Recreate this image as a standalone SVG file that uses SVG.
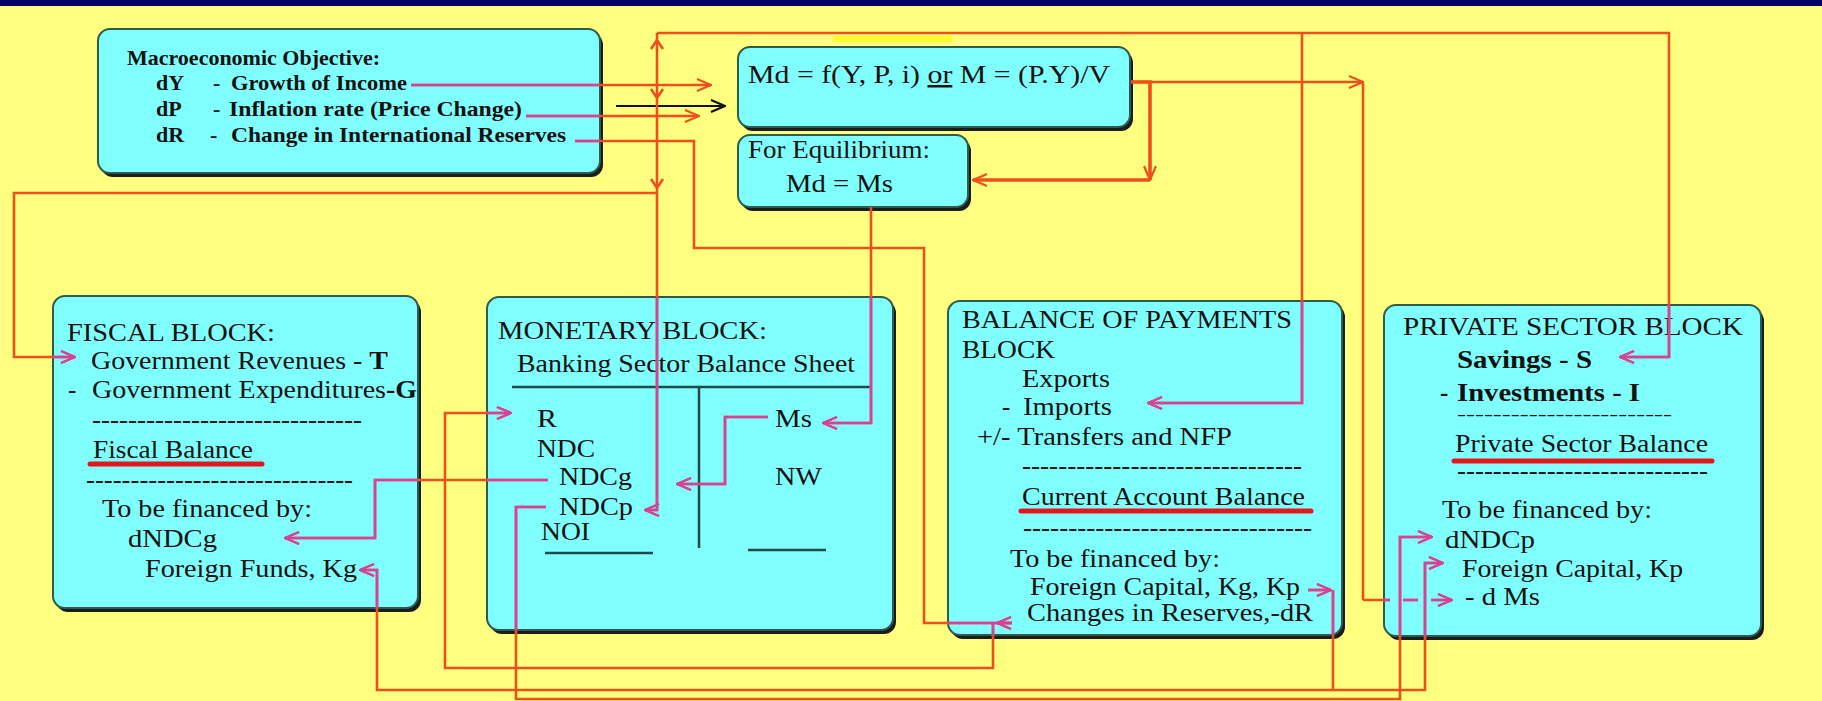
<svg xmlns="http://www.w3.org/2000/svg" width="1822" height="701" viewBox="0 0 1822 701">
<style>
.bg{fill:#FFFF80}
.box{fill:#80FFFF;stroke:#2E5B4E;stroke-width:2}
.sh{fill:#1c1c1c}
.t{font-family:"Liberation Serif","Times New Roman",serif;font-size:25px;fill:#111}
.ob{font-family:"Liberation Serif","Times New Roman",serif;font-size:22px;font-weight:bold;fill:#111}
.b{font-weight:bold}
.sd{font-size:14px;font-weight:bold}
.ul{stroke:#E3161B;stroke-width:5;stroke-linecap:round;fill:none}
.bs{stroke:#1F4A4A;stroke-width:2.5;fill:none}
.cn{fill:none;stroke:var(--lc,#EE501C);stroke-width:2.6}
.thick{stroke-width:3.6}
.ar{marker-end:var(--mk,url(#mo))}
.dash{stroke-dasharray:27 13 15 13 60}
.blk{fill:none;stroke:#111;stroke-width:2.2;marker-end:url(#mb)}
</style>
<defs>
<marker id="mo" viewBox="0 0 16 14" refX="15" refY="7" markerWidth="16" markerHeight="14" markerUnits="userSpaceOnUse" orient="auto"><path d="M1,1 L15,7 L1,13" fill="none" stroke="#EE501C" stroke-width="2.2"/></marker>
<marker id="mm" viewBox="0 0 16 14" refX="15" refY="7" markerWidth="16" markerHeight="14" markerUnits="userSpaceOnUse" orient="auto"><path d="M1,1 L15,7 L1,13" fill="none" stroke="#D6419E" stroke-width="2.2"/></marker>
<marker id="mb" viewBox="0 0 16 14" refX="15" refY="7" markerWidth="16" markerHeight="14" markerUnits="userSpaceOnUse" orient="auto"><path d="M1,1 L15,7 L1,13" fill="none" stroke="#111" stroke-width="2.2"/></marker>
<clipPath id="boxclip">
<rect x="98" y="29" width="502" height="144" rx="12"/>
<rect x="738" y="47" width="392" height="80" rx="12"/>
<rect x="738" y="135" width="230" height="72" rx="12"/>
<rect x="53" y="296" width="365" height="312" rx="12"/>
<rect x="487" y="297" width="406" height="333" rx="12"/>
<rect x="948" y="301" width="394" height="334" rx="12"/>
<rect x="1384" y="305" width="377" height="331" rx="12"/>
</clipPath>
</defs>
<rect class="bg" x="0" y="0" width="1822" height="701"/>
<rect x="0" y="0" width="1822" height="6" fill="#000066"/>
<rect x="833" y="36" width="119" height="6" fill="#FFFF30"/>

<g id="objective">
<rect class="sh" x="101" y="33" width="502" height="144" rx="12"/>
<rect class="box" x="98" y="29" width="502" height="144" rx="12"/>
<text class="ob" x="127" y="65" textLength="253" lengthAdjust="spacingAndGlyphs">Macroeconomic Objective:</text>
<text class="ob" x="156" y="90">dY</text><text class="ob" x="213" y="90">-</text>
<text class="ob" x="231" y="90" textLength="176" lengthAdjust="spacingAndGlyphs">Growth of Income</text>
<text class="ob" x="156" y="116">dP</text><text class="ob" x="213" y="116">-</text>
<text class="ob" x="229" y="116" textLength="293" lengthAdjust="spacingAndGlyphs">Inflation rate (Price Change)</text>
<text class="ob" x="156" y="142">dR</text><text class="ob" x="210" y="142">-</text>
<text class="ob" x="231" y="142" textLength="335" lengthAdjust="spacingAndGlyphs">Change in International Reserves</text>
</g>

<g id="money-demand">
<rect class="sh" x="741" y="51" width="392" height="80" rx="12"/>
<rect class="box" x="738" y="47" width="392" height="80" rx="12"/>
<text class="t" x="748" y="83" textLength="362" lengthAdjust="spacingAndGlyphs">Md = f(Y, P, i) <tspan text-decoration="underline">or</tspan>  M = (P.Y)/V</text>
</g>

<g id="equilibrium">
<rect class="sh" x="741" y="139" width="230" height="72" rx="12"/>
<rect class="box" x="738" y="135" width="230" height="72" rx="12"/>
<text class="t" x="748" y="158" textLength="182" lengthAdjust="spacingAndGlyphs">For Equilibrium:</text>
<text class="t" x="786" y="192" textLength="107" lengthAdjust="spacingAndGlyphs">Md = Ms</text>
</g>

<g id="fiscal-block">
<rect class="sh" x="56" y="300" width="365" height="312" rx="12"/>
<rect class="box" x="53" y="296" width="365" height="312" rx="12"/>
<text class="t" x="67" y="341" textLength="208" lengthAdjust="spacingAndGlyphs">FISCAL BLOCK:</text>
<text class="t" x="91" y="369" textLength="297" lengthAdjust="spacingAndGlyphs">Government Revenues - <tspan class="b">T</tspan></text>
<text class="t" x="68" y="398">-</text>
<text class="t" x="92" y="398" textLength="325" lengthAdjust="spacingAndGlyphs">Government Expenditures<tspan class="b">-G</tspan></text>
<text class="t" x="92" y="428" textLength="270" lengthAdjust="spacingAndGlyphs">------------------------------</text>
<text class="t" x="93" y="458" textLength="160" lengthAdjust="spacingAndGlyphs">Fiscal Balance</text>
<path class="ul" d="M90,464 H262"/>
<text class="t" x="86" y="488" textLength="267" lengthAdjust="spacingAndGlyphs">------------------------------</text>
<text class="t" x="102" y="517" textLength="210" lengthAdjust="spacingAndGlyphs">To be financed by:</text>
<text class="t" x="128" y="547" textLength="89" lengthAdjust="spacingAndGlyphs">dNDCg</text>
<text class="t" x="145" y="577" textLength="212" lengthAdjust="spacingAndGlyphs">Foreign Funds, Kg</text>
</g>

<g id="monetary-block">
<rect class="sh" x="490" y="301" width="406" height="333" rx="12"/>
<rect class="box" x="487" y="297" width="406" height="333" rx="12"/>
<text class="t" x="498" y="339" textLength="269" lengthAdjust="spacingAndGlyphs">MONETARY BLOCK:</text>
<text class="t" x="517" y="372" textLength="338" lengthAdjust="spacingAndGlyphs">Banking Sector Balance Sheet</text>
<path class="bs" d="M512,387 H872 M699,387 V548 M545,553 H653 M748,550 H826"/>
<text class="t" x="537" y="427" textLength="20" lengthAdjust="spacingAndGlyphs">R</text>
<text class="t" x="537" y="457" textLength="58" lengthAdjust="spacingAndGlyphs">NDC</text>
<text class="t" x="559" y="485" textLength="73" lengthAdjust="spacingAndGlyphs">NDCg</text>
<text class="t" x="559" y="515" textLength="74" lengthAdjust="spacingAndGlyphs">NDCp</text>
<text class="t" x="541" y="540" textLength="49" lengthAdjust="spacingAndGlyphs">NOI</text>
<text class="t" x="775" y="427" textLength="37" lengthAdjust="spacingAndGlyphs">Ms</text>
<text class="t" x="775" y="485" textLength="47" lengthAdjust="spacingAndGlyphs">NW</text>
</g>

<g id="bop-block">
<rect class="sh" x="951" y="305" width="394" height="334" rx="12"/>
<rect class="box" x="948" y="301" width="394" height="334" rx="12"/>
<text class="t" x="962" y="328" textLength="330" lengthAdjust="spacingAndGlyphs">BALANCE OF PAYMENTS</text>
<text class="t" x="962" y="358" textLength="93" lengthAdjust="spacingAndGlyphs">BLOCK</text>
<text class="t" x="1022" y="387" textLength="88" lengthAdjust="spacingAndGlyphs">Exports</text>
<text class="t" x="1002" y="415">-</text>
<text class="t" x="1023" y="415" textLength="89" lengthAdjust="spacingAndGlyphs">Imports</text>
<text class="t" x="977" y="445" textLength="255" lengthAdjust="spacingAndGlyphs">+/- Transfers and NFP</text>
<text class="t" x="1022" y="474" textLength="280" lengthAdjust="spacingAndGlyphs">-------------------------------</text>
<text class="t" x="1022" y="505" textLength="283" lengthAdjust="spacingAndGlyphs">Current Account Balance</text>
<path class="ul" d="M1021,511 H1311"/>
<text class="t" x="1023" y="536" textLength="289" lengthAdjust="spacingAndGlyphs">--------------------------------</text>
<text class="t" x="1010" y="567" textLength="210" lengthAdjust="spacingAndGlyphs">To be financed by:</text>
<text class="t" x="1030" y="595" textLength="270" lengthAdjust="spacingAndGlyphs">Foreign Capital, Kg, Kp</text>
<text class="t" x="1027" y="621" textLength="286" lengthAdjust="spacingAndGlyphs">Changes in Reserves,-dR</text>
</g>

<g id="private-block">
<rect class="sh" x="1387" y="309" width="377" height="331" rx="12"/>
<rect class="box" x="1384" y="305" width="377" height="331" rx="12"/>
<text class="t" x="1403" y="335" textLength="340" lengthAdjust="spacingAndGlyphs">PRIVATE SECTOR BLOCK</text>
<text class="t b" x="1457" y="368" textLength="135" lengthAdjust="spacingAndGlyphs">Savings - S</text>
<text class="t b" x="1440" y="401">-</text>
<text class="t b" x="1457" y="401" textLength="183" lengthAdjust="spacingAndGlyphs">Investments - I</text>
<text class="t sd" x="1457" y="419" textLength="215" lengthAdjust="spacingAndGlyphs">------------------------</text>
<text class="t" x="1455" y="452" textLength="253" lengthAdjust="spacingAndGlyphs">Private Sector Balance</text>
<path class="ul" d="M1454,461 H1712"/>
<text class="t" x="1457" y="479" textLength="251" lengthAdjust="spacingAndGlyphs">----------------------------</text>
<text class="t" x="1442" y="518" textLength="210" lengthAdjust="spacingAndGlyphs">To be financed by:</text>
<text class="t" x="1445" y="548" textLength="90" lengthAdjust="spacingAndGlyphs">dNDCp</text>
<text class="t" x="1462" y="577" textLength="221" lengthAdjust="spacingAndGlyphs">Foreign Capital, Kp</text>
<text class="t" x="1465" y="605" textLength="75" lengthAdjust="spacingAndGlyphs">- d Ms</text>
</g>

<g id="connectors">
<path class="cn ar" d="M411,85 H711"/>
<path class="cn ar" d="M526,116 H699"/>
<path class="blk" d="M616,106 H725"/>
<path class="cn" d="M575,141 H694 V248 H924 V623 H1012"/>
<path class="cn ar" d="M1012,623 H997"/>
<path class="cn ar" d="M993,623 V668 H445 V413 H511"/>
<path class="cn ar" d="M657,33 V510 H645"/>
<path class="cn ar" d="M657,33 H1669 V357 H1620"/>
<path class="cn ar" d="M1302,33 V403 H1148"/>
<path class="cn ar" d="M657,193 H14 V357 H75"/>
<path class="cn" d="M651,49 L657,40 L663,49 M651,89 L657,98 L663,89 M651,179 L657,188 L663,179"/>
<path class="cn ar" d="M1133,82 H1363"/>
<path class="cn" d="M1363,82 V600"/>
<path class="cn ar dash" d="M1363,600 H1452"/>
<path class="cn thick ar" d="M1131,82 H1150 V180"/>
<path class="cn thick ar" d="M1150,180 H973"/>
<path class="cn ar" d="M871,207 V423 H823"/>
<path class="cn ar" d="M768,417 H725 V484 H677"/>
<path class="cn ar" d="M548,480 H375 V538 H285"/>
<path class="cn ar" d="M546,507 H516 V699 H1400 V537 H1432"/>
<path class="cn ar" d="M1308,590 H1331"/>
<path class="cn ar" d="M1333,590 V690 H377 V570 H360"/>
<path class="cn ar" d="M1333,690 H1425 V563 H1443"/>
</g>
<g id="connectors-in-boxes">
<use href="#connectors" clip-path="url(#boxclip)" style="--lc:#D6419E;--mk:url(#mm)"/>
</g>
</svg>
